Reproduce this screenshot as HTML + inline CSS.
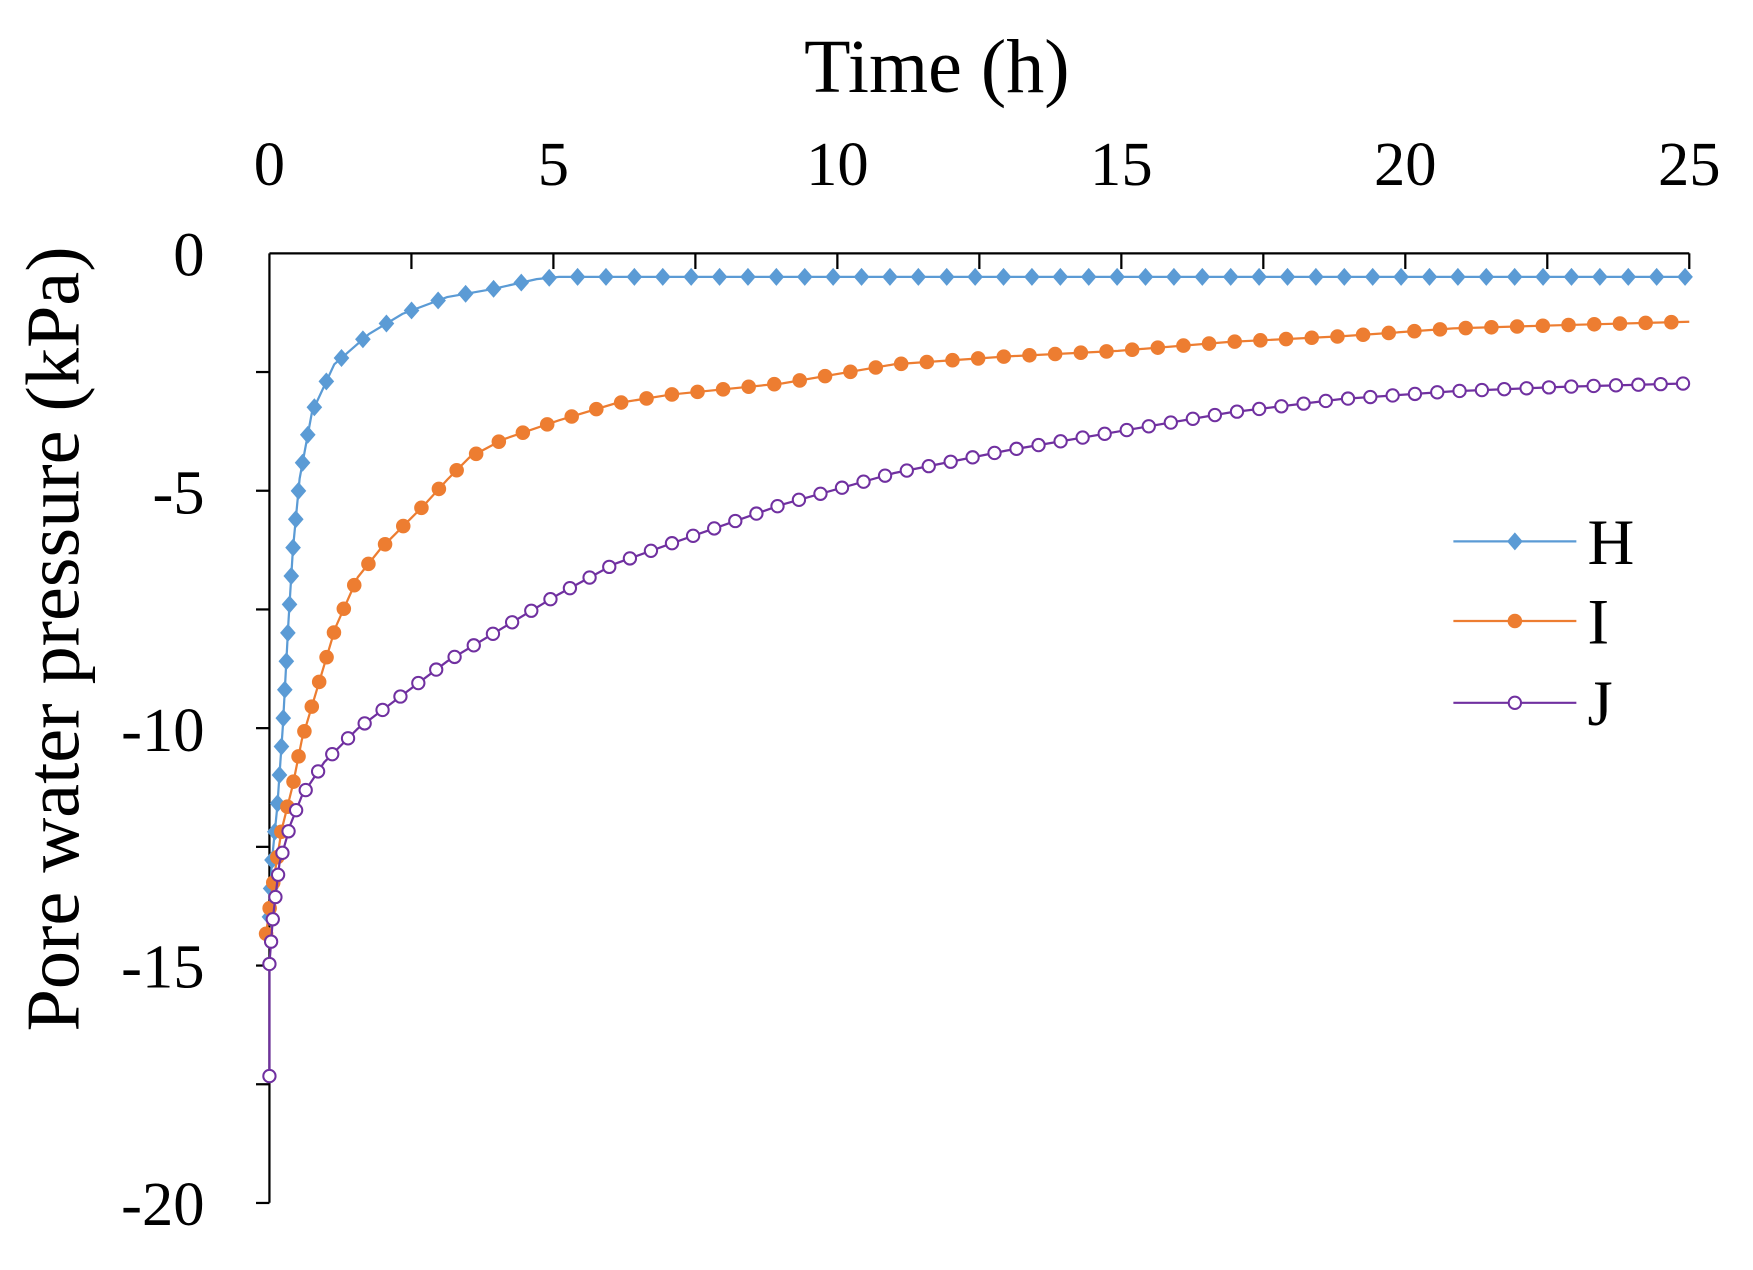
<!DOCTYPE html>
<html><head><meta charset="utf-8"><style>
html,body{margin:0;padding:0;background:#fff;}
svg{display:block;}
text{font-family:"Liberation Serif",serif;fill:#000;}
</style></head><body>
<svg id="s" width="1753" height="1270" viewBox="0 0 1568 1133" preserveAspectRatio="none" xmlns="http://www.w3.org/2000/svg">
<text x="838" y="82" font-size="68" text-anchor="middle">Time (h)</text>
<g font-size="56" text-anchor="middle">
<text x="241" y="165">0</text><text x="495" y="165">5</text><text x="749" y="165">10</text>
<text x="1003" y="165">15</text><text x="1257" y="165">20</text><text x="1511" y="165">25</text>
</g>
<g font-size="56" text-anchor="end">
<text x="183" y="246">0</text><text x="183" y="458">-5</text><text x="183" y="670">-10</text>
<text x="183" y="881">-15</text><text x="183" y="1093">-20</text>
</g>
<text transform="translate(70,570) rotate(-90)" font-size="68" text-anchor="middle">Pore water pressure (kPa)</text>
<g id="ax" stroke="#000" stroke-width="2" fill="none">
<line x1="241" y1="226" x2="1511" y2="226"/><line x1="241" y1="226" x2="241" y2="1073"/>
</g>
<g id="series"></g>
<g id="leg"></g>
<g font-size="58"><text x="1420" y="503">H</text><text x="1420" y="574">I</text><text x="1420" y="647">J</text></g>
</svg>
<script>
var NS="http://www.w3.org/2000/svg",s=document.getElementById('ax');
function el(p,t,a){var e=document.createElementNS(NS,t);for(var k in a)e.setAttribute(k,a[k]);p.appendChild(e);return e;}
for(var i=1;i<=10;i++){var x=241+i*127;el(s,'line',{x1:x,y1:226,x2:x,y2:240});}
for(var i=1;i<=8;i++){var y=226+i*105.9;el(s,'line',{x1:229,y1:y,x2:241,y2:y});}
var H=[[241,818],[243,770],[248,720],[253,648],[258,555],[262,490],[268,427],[279,368],[299,325],[330,298],[360,280],[400,265],[440,258],[480,249],[500,247],[1511,247]];
var I=[[238,833],[244,790],[252,740],[262,700],[270,660],[285,610],[300,560],[320,515],[340,490],[360,470],[380,450],[400,428],[420,408],[450,392],[500,375],[550,360],[600,352],[700,342],[800,325],[900,318],[1000,313],[1100,305],[1200,300],[1300,293],[1400,290],[1511,287]];
var J=[[241,960],[241,860],[244,820],[250,770],[260,735],[270,710],[290,680],[320,650],[360,620],[400,590],[450,560],[500,530],[550,503],[600,485],[700,450],[800,422],[900,402],[1000,385],[1100,368],[1200,356],[1300,349],[1400,345],[1511,342]];
var g=document.getElementById('series');
function marker(p,type,c,x,y){
 if(type=='d')el(p,'polygon',{points:(x)+','+(y-8)+' '+(x+7)+','+y+' '+x+','+(y+8)+' '+(x-7)+','+y,fill:c});
 else if(type=='c')el(p,'circle',{cx:x,cy:y,r:6.5,fill:c});
 else el(p,'circle',{cx:x,cy:y,r:5.5,fill:'#fff',stroke:c,'stroke-width':1.8});
}
function draw(P,c,type,step,skip){
 el(g,'polyline',{points:P.map(function(p){return p.join(',')}).join(' '),fill:'none',stroke:c,'stroke-width':2});
 var acc=0;marker(g,type,c,P[0][0],P[0][1]);
 for(var i=1;i<P.length;i++){var dx=P[i][0]-P[i-1][0],dy=P[i][1]-P[i-1][1],L=Math.hypot(dx,dy),d=step-acc;
  if(skip&&i==1){acc=0;marker(g,type,c,P[1][0],P[1][1]);continue;}
  while(d<=L){marker(g,type,c,P[i-1][0]+dx*d/L,P[i-1][1]+dy*d/L);d+=step;}acc=L-(d-step);}
}
draw(H,'#5B9BD5','d',25.4);draw(I,'#ED7D31','c',23);draw(J,'#7030A0','o',20,true);
var lg=document.getElementById('leg');
[['#5B9BD5','d',483],['#ED7D31','c',554],['#7030A0','o',627]].forEach(function(a){
 el(lg,'line',{x1:1300,y1:a[2],x2:1410,y2:a[2],stroke:a[0],'stroke-width':2});marker(lg,a[1],a[0],1355,a[2]);});
</script>
</body></html>
